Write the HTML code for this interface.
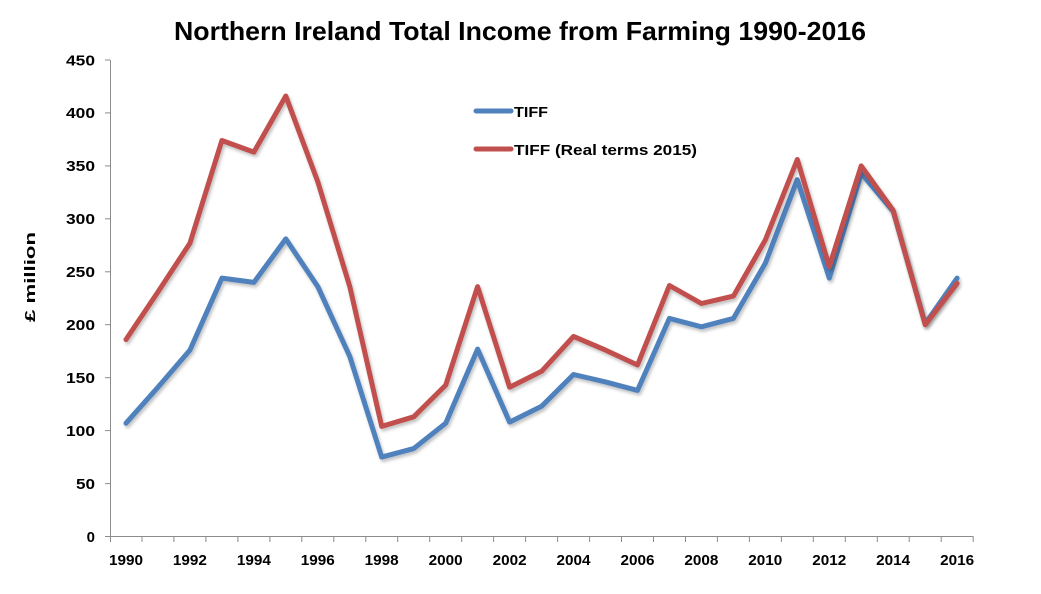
<!DOCTYPE html>
<html>
<head>
<meta charset="utf-8">
<style>
  html, body { margin: 0; padding: 0; background: #ffffff; }
  svg { display: block; }
  text { font-family: "Liberation Sans", "DejaVu Sans", sans-serif; font-weight: bold; fill: #000; }
</style>
</head>
<body>
<svg width="1041" height="594" viewBox="0 0 1041 594" xmlns="http://www.w3.org/2000/svg">
  <defs>
    <filter id="sh" x="-5%" y="-5%" width="110%" height="115%">
      <feGaussianBlur in="SourceAlpha" stdDeviation="1.5"/>
      <feOffset dx="1.5" dy="2.5" result="b"/>
      <feComponentTransfer><feFuncA type="linear" slope="0.25"/></feComponentTransfer>
      <feMerge><feMergeNode/><feMergeNode in="SourceGraphic"/></feMerge>
    </filter>
  </defs>
  <rect width="1041" height="594" fill="#fff"/>

  <!-- Title -->
  <text x="520" y="40" font-size="26" text-anchor="middle" textLength="692" lengthAdjust="spacingAndGlyphs">Northern Ireland Total Income from Farming 1990-2016</text>

  <!-- Y axis label -->
  <text transform="translate(35,277) rotate(-90)" font-size="15" text-anchor="middle" textLength="90" lengthAdjust="spacingAndGlyphs">£ million</text>

  <!-- Axes -->
  <g stroke="#8c8c8c" stroke-width="1" fill="none">
    <line x1="110.5" y1="60" x2="110.5" y2="537"/>
    <line x1="110" y1="536.5" x2="973.5" y2="536.5"/>
    <line x1="105" y1="536.5" x2="110" y2="536.5"/>
    <line x1="105" y1="483.6" x2="110" y2="483.6"/>
    <line x1="105" y1="430.6" x2="110" y2="430.6"/>
    <line x1="105" y1="377.7" x2="110" y2="377.7"/>
    <line x1="105" y1="324.7" x2="110" y2="324.7"/>
    <line x1="105" y1="271.8" x2="110" y2="271.8"/>
    <line x1="105" y1="218.8" x2="110" y2="218.8"/>
    <line x1="105" y1="165.9" x2="110" y2="165.9"/>
    <line x1="105" y1="112.9" x2="110" y2="112.9"/>
    <line x1="105" y1="60" x2="110" y2="60"/>
    <line x1="110.5" y1="536.5" x2="110.5" y2="542"/>
    <line x1="142.0" y1="536.5" x2="142.0" y2="542"/>
    <line x1="173.9" y1="536.5" x2="173.9" y2="542"/>
    <line x1="205.9" y1="536.5" x2="205.9" y2="542"/>
    <line x1="237.9" y1="536.5" x2="237.9" y2="542"/>
    <line x1="269.9" y1="536.5" x2="269.9" y2="542"/>
    <line x1="301.8" y1="536.5" x2="301.8" y2="542"/>
    <line x1="333.8" y1="536.5" x2="333.8" y2="542"/>
    <line x1="365.8" y1="536.5" x2="365.8" y2="542"/>
    <line x1="397.7" y1="536.5" x2="397.7" y2="542"/>
    <line x1="429.7" y1="536.5" x2="429.7" y2="542"/>
    <line x1="461.7" y1="536.5" x2="461.7" y2="542"/>
    <line x1="493.6" y1="536.5" x2="493.6" y2="542"/>
    <line x1="525.6" y1="536.5" x2="525.6" y2="542"/>
    <line x1="557.6" y1="536.5" x2="557.6" y2="542"/>
    <line x1="589.6" y1="536.5" x2="589.6" y2="542"/>
    <line x1="621.5" y1="536.5" x2="621.5" y2="542"/>
    <line x1="653.5" y1="536.5" x2="653.5" y2="542"/>
    <line x1="685.5" y1="536.5" x2="685.5" y2="542"/>
    <line x1="717.4" y1="536.5" x2="717.4" y2="542"/>
    <line x1="749.4" y1="536.5" x2="749.4" y2="542"/>
    <line x1="781.4" y1="536.5" x2="781.4" y2="542"/>
    <line x1="813.3" y1="536.5" x2="813.3" y2="542"/>
    <line x1="845.3" y1="536.5" x2="845.3" y2="542"/>
    <line x1="877.3" y1="536.5" x2="877.3" y2="542"/>
    <line x1="909.2" y1="536.5" x2="909.2" y2="542"/>
    <line x1="941.2" y1="536.5" x2="941.2" y2="542"/>
    <line x1="973.2" y1="536.5" x2="973.2" y2="542"/>
  </g>

  <!-- Y tick labels -->
  <g font-size="15" text-anchor="end">
    <text x="95" y="541.8">0</text>
    <text x="95" y="488.9" textLength="19" lengthAdjust="spacingAndGlyphs">50</text>
    <text x="95" y="435.9" textLength="29" lengthAdjust="spacingAndGlyphs">100</text>
    <text x="95" y="383.0" textLength="29" lengthAdjust="spacingAndGlyphs">150</text>
    <text x="95" y="330.0" textLength="29" lengthAdjust="spacingAndGlyphs">200</text>
    <text x="95" y="277.1" textLength="29" lengthAdjust="spacingAndGlyphs">250</text>
    <text x="95" y="224.1" textLength="29" lengthAdjust="spacingAndGlyphs">300</text>
    <text x="95" y="171.2" textLength="29" lengthAdjust="spacingAndGlyphs">350</text>
    <text x="95" y="118.2" textLength="29" lengthAdjust="spacingAndGlyphs">400</text>
    <text x="95" y="65.3" textLength="29" lengthAdjust="spacingAndGlyphs">450</text>
  </g>

  <!-- X tick labels -->
  <g font-size="15" text-anchor="middle">
    <text x="126.0" y="565" textLength="34" lengthAdjust="spacingAndGlyphs">1990</text>
    <text x="189.9" y="565" textLength="34" lengthAdjust="spacingAndGlyphs">1992</text>
    <text x="253.9" y="565" textLength="34" lengthAdjust="spacingAndGlyphs">1994</text>
    <text x="317.8" y="565" textLength="34" lengthAdjust="spacingAndGlyphs">1996</text>
    <text x="381.7" y="565" textLength="34" lengthAdjust="spacingAndGlyphs">1998</text>
    <text x="445.7" y="565" textLength="34" lengthAdjust="spacingAndGlyphs">2000</text>
    <text x="509.6" y="565" textLength="34" lengthAdjust="spacingAndGlyphs">2002</text>
    <text x="573.5" y="565" textLength="34" lengthAdjust="spacingAndGlyphs">2004</text>
    <text x="637.5" y="565" textLength="34" lengthAdjust="spacingAndGlyphs">2006</text>
    <text x="701.4" y="565" textLength="34" lengthAdjust="spacingAndGlyphs">2008</text>
    <text x="765.3" y="565" textLength="34" lengthAdjust="spacingAndGlyphs">2010</text>
    <text x="829.3" y="565" textLength="34" lengthAdjust="spacingAndGlyphs">2012</text>
    <text x="893.2" y="565" textLength="34" lengthAdjust="spacingAndGlyphs">2014</text>
    <text x="957.1" y="565" textLength="34" lengthAdjust="spacingAndGlyphs">2016</text>
  </g>

  <!-- Series: TIFF (blue) -->
  <polyline filter="url(#sh)" fill="none" stroke="#4f81bd" stroke-width="5" stroke-linejoin="round" stroke-linecap="round"
    points="126.0,423.2 158.0,387.2 189.9,350.1 221.9,278.1 253.9,282.4 285.8,238.9 317.8,286.6 349.8,356.5 381.7,457.1 413.7,448.6 445.7,423.2 477.6,349.1 509.6,422.1 541.6,406.3 573.5,374.5 605.5,381.9 637.5,390.4 669.4,318.4 701.4,326.8 733.4,318.4 765.3,263.3 797.3,179.7 829.3,278.1 861.2,173.3 893.2,211.4 925.2,323.7 957.1,278.1"/>

  <!-- Series: TIFF real terms (red) -->
  <polyline filter="url(#sh)" fill="none" stroke="#c0504d" stroke-width="5" stroke-linejoin="round" stroke-linecap="round"
    points="126.0,339.5 158.0,291.9 189.9,243.2 221.9,140.5 253.9,152.1 285.8,96.0 317.8,181.8 349.8,286.6 381.7,426.4 413.7,416.8 445.7,385.1 477.6,286.6 509.6,387.2 541.6,371.3 573.5,336.4 605.5,350.1 637.5,365.0 669.4,285.5 701.4,303.5 733.4,296.1 765.3,240.0 797.3,159.5 829.3,266.5 861.2,165.9 893.2,210.4 925.2,324.7 957.1,283.4"/>

  <!-- Legend -->
  <line x1="476" y1="111" x2="511" y2="111" stroke="#4f81bd" stroke-width="5" stroke-linecap="round"/>
  <text x="514" y="117" font-size="15" textLength="34" lengthAdjust="spacingAndGlyphs">TIFF</text>
  <line x1="476" y1="149" x2="511" y2="149" stroke="#c0504d" stroke-width="5" stroke-linecap="round"/>
  <text x="514" y="155" font-size="15" textLength="183" lengthAdjust="spacingAndGlyphs">TIFF (Real terms 2015)</text>
</svg>
</body>
</html>
